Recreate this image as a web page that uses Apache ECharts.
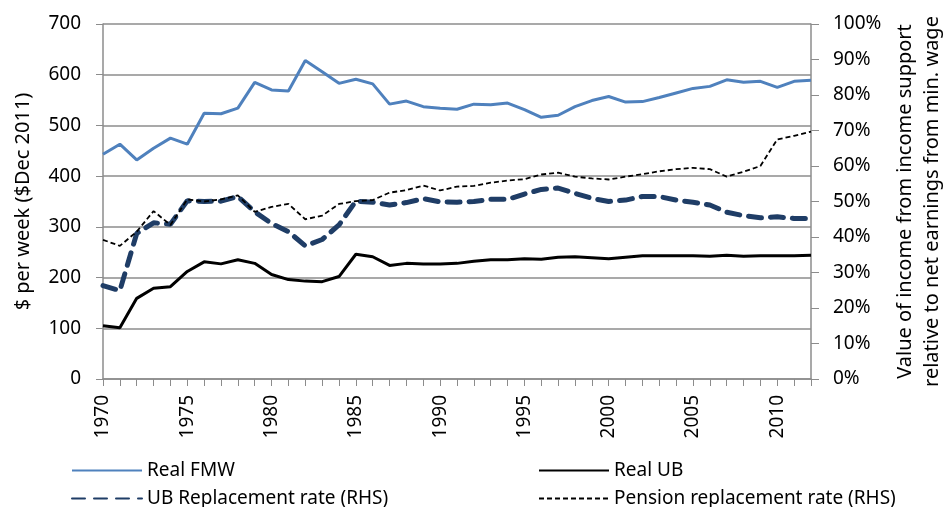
<!DOCTYPE html>
<html>
<head>
<meta charset="utf-8">
<script src="https://cdn.jsdelivr.net/npm/echarts@6/dist/echarts.min.js"></script>
<style>
  html, body { margin: 0; padding: 0; background: #fff; }
  #chart { width: 943px; height: 507px; }
</style>
</head>
<body>
<div id="chart"></div>
<script>
var years = [];
for (var y = 1970; y <= 2012; y++) years.push(String(y));

// $ per week, Dec 2011 dollars
var realFMW = [443, 463, 432, 455, 475, 463, 524, 523, 534, 585, 570, 568, 628, 606, 583, 591, 582, 542, 548, 537,
  534, 532, 542, 541, 544, 531, 516, 520, 537, 549, 557, 546, 547, 555, 564, 573, 577, 590, 585, 587, 575, 587, 589];
var realUB = [105, 101, 159, 179, 182, 212, 231, 227, 235, 228, 206, 196, 193, 192, 202, 246, 241, 224, 228, 227,
  227, 228, 232, 235, 235, 237, 236, 240, 241, 239, 237, 240, 243, 243, 243, 243, 242, 244, 242, 243, 243, 243, 244];
// replacement rates (RHS), fraction
var ubRate = [0.263, 0.249, 0.410, 0.440, 0.436, 0.502, 0.500, 0.501, 0.514, 0.471, 0.438, 0.415, 0.375, 0.393, 0.434, 0.501, 0.498, 0.490, 0.497, 0.508,
  0.499, 0.498, 0.500, 0.506, 0.506, 0.521, 0.534, 0.538, 0.523, 0.509, 0.500, 0.504, 0.514, 0.514, 0.504, 0.498, 0.490, 0.470, 0.460, 0.454, 0.457, 0.452, 0.452];
var pensionRate = [0.392, 0.375, 0.415, 0.473, 0.434, 0.506, 0.500, 0.506, 0.517, 0.471, 0.485, 0.493, 0.450, 0.460, 0.493, 0.501, 0.504, 0.525, 0.532, 0.545,
  0.531, 0.542, 0.544, 0.553, 0.559, 0.563, 0.576, 0.581, 0.570, 0.565, 0.562, 0.570, 0.577, 0.585, 0.591, 0.595, 0.591, 0.570, 0.584, 0.600, 0.675, 0.685, 0.697];

var chart = echarts.init(document.getElementById('chart'));
var font = 'Noto Sans';
var gridColor = '#8c8c8c';

// one legend per entry so nothing wraps
function legendAt(name, left, top) {
  return {
    left: left,
    top: top,
    itemWidth: 70,
    itemHeight: 12,
    itemStyle: { opacity: 0 },
    textStyle: { fontSize: 19, color: '#000', fontFamily: font },
    data: [name]
  };
}

var option = {
  backgroundColor: '#ffffff',
  animation: false,
  textStyle: { fontFamily: font },
  grid: { left: 103, right: 132, top: 24, bottom: 128, outerBoundsMode: 'none' },
  legend: [
    legendAt('Real FMW', 66, 456),
    legendAt('UB Replacement rate (RHS)', 66, 484),
    legendAt('Real UB', 533, 456),
    legendAt('Pension replacement rate (RHS)', 533, 484)
  ],
  xAxis: {
    type: 'category',
    data: years,
    boundaryGap: false,
    axisLine: { lineStyle: { color: gridColor, width: 1.5 } },
    axisTick: { interval: 0, length: 7, lineStyle: { color: gridColor } },
    axisLabel: {
      interval: 4,
      rotate: 90,
      fontSize: 19,
      color: '#000',
      margin: 16
    }
  },
  yAxis: [{
    type: 'value',
    min: 0,
    max: 700,
    interval: 100,
    name: '$ per week ($Dec 2011)',
    nameLocation: 'middle',
    nameGap: 70,
    nameTextStyle: { fontSize: 20, color: '#000' },
    axisLine: { show: true, lineStyle: { color: gridColor, width: 1.5 } },
    axisTick: { show: true, length: 7, lineStyle: { color: gridColor } },
    axisLabel: { fontSize: 19, color: '#000', margin: 22 },
    splitLine: { lineStyle: { color: gridColor, width: 1.5 } }
  }, {
    type: 'value',
    min: 0,
    max: 1,
    interval: 0.1,
    position: 'right',
    name: 'Value of income from income support\nrelative to net earnings from min. wage',
    nameLocation: 'middle',
    nameGap: 78,
    nameRotate: 90,
    nameTextStyle: { fontSize: 20, color: '#000', lineHeight: 27 },
    axisLine: { show: true, lineStyle: { color: gridColor, width: 1.5 } },
    axisTick: { show: true, length: 8, lineStyle: { color: gridColor } },
    axisLabel: {
      fontSize: 19,
      color: '#000',
      margin: 22,
      formatter: function (v) { return Math.round(v * 100) + '%'; }
    },
    splitLine: { show: false }
  }],
  series: [{
    name: 'Real FMW',
    type: 'line',
    data: realFMW,
    yAxisIndex: 0,
    symbol: 'none',
    lineStyle: { color: '#4f81bd', width: 3 },
    itemStyle: { color: '#4f81bd' }
  }, {
    name: 'Real UB',
    type: 'line',
    data: realUB,
    yAxisIndex: 0,
    symbol: 'none',
    lineStyle: { color: '#000000', width: 3 },
    itemStyle: { color: '#000000' }
  }, {
    name: 'UB Replacement rate (RHS)',
    type: 'line',
    data: ubRate,
    yAxisIndex: 1,
    symbol: 'none',
    lineStyle: { color: '#1f3d66', width: 5, type: [13, 9], cap: 'round' },
    itemStyle: { color: '#1f3d66' }
  }, {
    name: 'Pension replacement rate (RHS)',
    type: 'line',
    data: pensionRate,
    yAxisIndex: 1,
    symbol: 'none',
    lineStyle: { color: '#000000', width: 1.8, type: [5, 3] },
    itemStyle: { color: '#000000' }
  }]
};

chart.setOption(option);
</script>
</body>
</html>
